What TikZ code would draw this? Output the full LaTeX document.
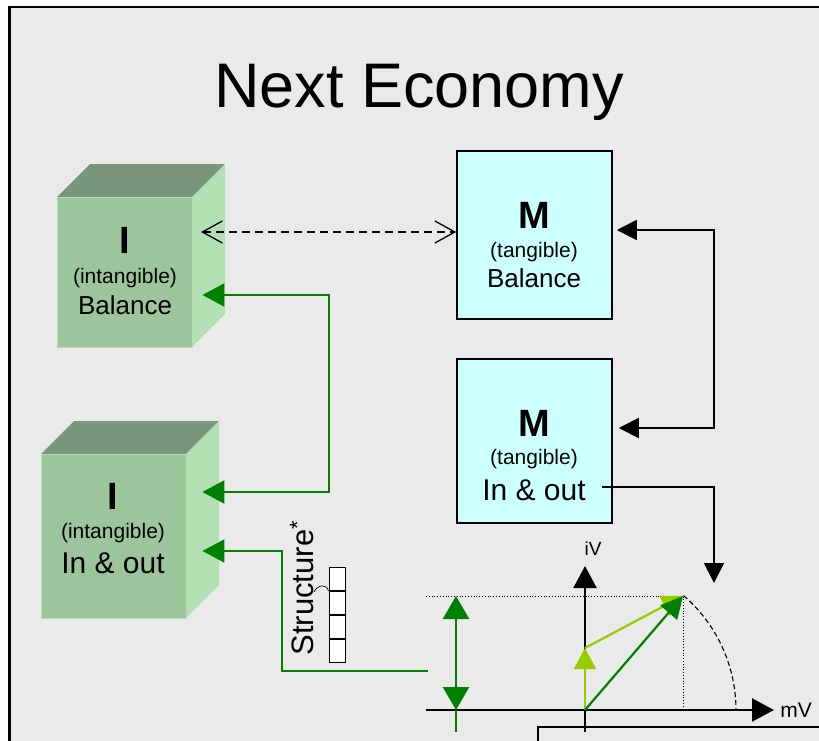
\documentclass[tikz,border=0pt]{standalone}
\usepackage{fontspec}
\setmainfont{Liberation Sans}
\usetikzlibrary{arrows.meta,calc}
\definecolor{bg}{HTML}{EAEAEA}
\definecolor{cfront}{HTML}{9CC59C}
\definecolor{ctop}{HTML}{7A967A}
\definecolor{cside}{HTML}{B3E0B3}
\definecolor{mfill}{HTML}{CCFFFF}
\definecolor{dgreen}{HTML}{008000}
\definecolor{lgreen}{HTML}{99CC00}
\tikzset{
  front/.style={fill=cfront, draw=cside, line width=0.8pt, inner sep=0pt},
  topface/.style={fill=ctop},
  sideface/.style={fill=cside},
  mbox/.style={draw=black, line width=1.5pt, fill=mfill, minimum width=155pt, minimum height=168pt, inner sep=0pt},
  bigletter/.style={font=\fontsize{38}{42}\selectfont\bfseries},
  smalltxt/.style={font=\fontsize{21}{24}\selectfont},
  midtxt/.style={font=\fontsize{26}{30}\selectfont},
  iotxt/.style={font=\fontsize{30}{34}\selectfont},
  gtip/.tip={Triangle[length=22pt,width=23pt]},
  btip/.tip={Triangle[length=20pt,width=20pt]},
  garrow/.style={draw=dgreen, line width=2.2pt, -gtip},
  barrow/.style={draw=black, line width=1.8pt, -btip},
  axis/.style={draw=black, line width=2.2pt, -{Triangle[length=22pt,width=23pt]}},
  cell/.style={draw=black, line width=1pt, fill=white, minimum width=16pt, minimum height=23pt, inner sep=0pt},
}
\begin{document}
\begin{tikzpicture}[x=1pt,y=-1pt]
\useasboundingbox (0,0) rectangle (819,741);
% frame
\fill[bg] (9.5,7) rectangle (819,741);
\draw[line width=2.2pt] (9.5,741) -- (9.5,7) -- (819,7);
% title
\node[font=\fontsize{63}{70}\selectfont] (title) at (419,92) {Next Economy};

% cube I Balance
\fill[topface] (57,197) -- (90,164) -- (225,164) -- (192,197) -- cycle;
\fill[sideface] (192,197) -- (225,164) -- (225,314) -- (192,347) -- cycle;
\node[front, minimum width=135pt, minimum height=150pt] (ib) at (124.5,272) {};
\node[bigletter] (ibI) at (125,240) {I};
\node[smalltxt] (ibt) at (125,278) {(intangible)};
\node[midtxt] (ibb) at (125,305) {Balance};

% cube I In & out
\fill[topface] (41,454) -- (74,421) -- (219,421) -- (186,454) -- cycle;
\fill[sideface] (186,454) -- (219,421) -- (219,585) -- (186,618) -- cycle;
\node[front, minimum width=145pt, minimum height=164pt] (io) at (113.5,536) {};
\node[bigletter] (ioI) at (113,496) {I};
\node[smalltxt] (iot) at (113,533) {(intangible)};
\node[iotxt] (ioo) at (113,563) {In \& out};

% M boxes
\node[mbox] (mb) at (534.5,235) {};
\node[bigletter] (mbM) at (534,215) {M};
\node[smalltxt] (mbt) at (534,252) {(tangible)};
\node[midtxt] (mbb) at (534,278) {Balance};

\node[mbox, minimum height=164pt] (mo) at (534.5,441) {};
\node[bigletter] (moM) at (534,423) {M};
\node[smalltxt] (mot) at (534,459) {(tangible)};
\node[iotxt] (moo) at (534,490) {In \& out};

% dashed link
\coordinate (dl) at (201,232);
\draw[line width=1.3pt, dash pattern=on 8pt off 5pt, {Straight Barb[length=20pt,width=22pt,line width=1.3pt]}-{Straight Barb[length=20pt,width=22pt,line width=1.3pt]}] (dl) -- (mb.west |- dl);

% black links
\coordinate (bk1) at (714,230);
\coordinate (bk2) at (714,428);
\draw[barrow, btip-btip] ($(mb.east |- bk1)+(4,0)$) -- (bk1) -- (bk2) -- ($(mo.east |- bk2)+(6,0)$);
\coordinate (ob1) at (602,487);
\coordinate (ob2) at (714,487);
\coordinate (ob3) at (714,583);
\draw[barrow] (ob1) -- (ob2) -- (ob3);

% green links
\coordinate (g1) at (329,492);
\coordinate (g2) at (329,295);
\draw[garrow, gtip-gtip] ($(io.east |- g1)+(16,0)$) -- (g1) -- (g2) -- ($(ib.east |- g2)+(10,0)$);
\coordinate (s1) at (428,671);
\coordinate (s2) at (282,671);
\coordinate (s3) at (282,551);
\draw[garrow] (s1) -- (s2) -- (s3) -- ($(io.east |- s3)+(16,0)$);

% Structure
\node[rotate=90, font=\fontsize{31}{34}\selectfont] (stxt) at (302,588) {Structure\textsuperscript{*}};
\node[cell] (c1) at (337,579) {};
\node[cell, anchor=north] (c2) at (c1.south) {};
\node[cell, anchor=north] (c3) at (c2.south) {};
\node[cell, anchor=north] (c4) at (c3.south) {};
\draw[line width=0.7pt] (314,592) .. controls (318,584) and (327,584) .. (c1.south west);

% graph
\coordinate (O) at (585,710);
\coordinate (P) at (683,596);
\coordinate (xl) at (426,710);
\coordinate (xr) at (774,710);
\coordinate (yb) at (585,732);
\coordinate (yt) at (585,566);
\draw[dotted, line width=0.8pt] (426,596) -- (P) -- (P |- O);
\draw[line width=1.1pt, dash pattern=on 5pt off 3pt] plot[domain=-49.3:0, samples=40] ({585+151*cos(\x)},{710+151*sin(\x)});
\draw[axis] (xl) -- (xr);
\draw[axis] (yb) -- (yt);
\node[font=\fontsize{21}{24}\selectfont] (mv) at (796,710) {mV};
\node[font=\fontsize{19}{22}\selectfont] (iv) at (593,549) {iV};
\coordinate (L) at (585,648);
\draw[draw=lgreen, line width=2.2pt, -{Triangle[length=21pt,width=22pt]}] (O) -- (L);
\draw[draw=lgreen, line width=2.2pt, -{Triangle[length=21pt,width=22pt]}] (L) -- (P);
\draw[draw=dgreen, line width=2.2pt, -{Triangle[length=22pt,width=22pt]}] (O) -- (P);
\coordinate (d1) at (456,596);
\coordinate (d2) at (456,710);
\draw[draw=dgreen, line width=2.6pt, {Triangle[length=23pt,width=26pt]}-{Triangle[length=23pt,width=26pt]}] (d1) -- (d2);
\draw[draw=dgreen, line width=2.2pt] (d2) -- (456,732);
% bottom box
\draw[line width=1.5pt] (538,742) -- (538,727) -- (820,727);
\end{tikzpicture}
\end{document}
